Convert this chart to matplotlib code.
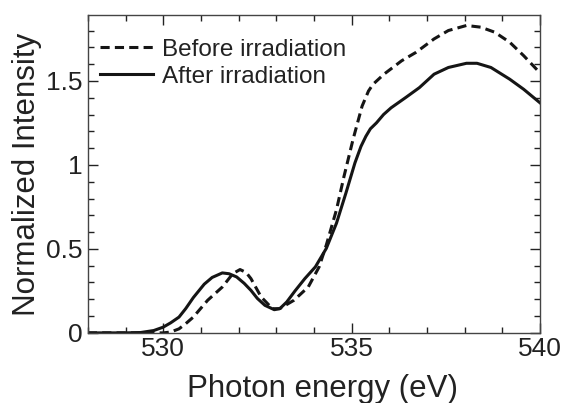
import matplotlib
matplotlib.use("Agg")
import matplotlib.pyplot as plt
from matplotlib.ticker import MultipleLocator

plt.rcParams['font.family'] = ['Liberation Sans', 'DejaVu Sans']

after_x = [528.0, 528.5, 529.0, 529.4, 529.75, 530.0, 530.2, 530.42, 530.6, 530.8, 531.09, 531.3,
           531.57, 531.75, 531.95, 532.15, 532.33, 532.5, 532.7, 532.95, 533.1, 533.28, 533.5,
           533.76, 534.04, 534.33, 534.6, 534.85, 535.09, 535.25, 535.38, 535.5, 535.66, 535.85,
           536.05, 536.43, 536.8, 537.19, 537.57, 538.05, 538.33, 538.7, 539.2, 539.57, 540.0]
after_y = [0.0, 0.0, 0.0, 0.002, 0.014, 0.034, 0.06, 0.094, 0.145, 0.21, 0.29, 0.33,
           0.357, 0.352, 0.333, 0.295, 0.253, 0.205, 0.164, 0.138, 0.145, 0.184, 0.25,
           0.323, 0.393, 0.503, 0.653, 0.832, 1.012, 1.11, 1.17, 1.215, 1.25, 1.30,
           1.34, 1.40, 1.46, 1.54, 1.58, 1.605, 1.605, 1.58, 1.51, 1.45, 1.37]

before_x = [528.0, 528.5, 529.0, 529.5, 530.0, 530.2, 530.42, 530.6, 530.8, 531.18, 531.57, 531.85,
            532.04, 532.2, 532.33, 532.6, 532.9, 533.09, 533.47, 533.85, 534.14, 534.33, 534.6,
            534.8, 535.04, 535.28, 535.45, 535.57, 535.86, 536.33, 536.71, 537.19, 537.57, 538.05,
            538.43, 538.8, 539.2, 539.57, 539.95]
before_y = [0.0, 0.0, 0.0, 0.0, 0.0, 0.005, 0.024, 0.055, 0.094, 0.194, 0.273, 0.353,
            0.377, 0.36, 0.323, 0.214, 0.144, 0.144, 0.194, 0.273, 0.393, 0.523, 0.733,
            0.932, 1.152, 1.35, 1.44, 1.48, 1.54, 1.62, 1.67, 1.75, 1.80, 1.83,
            1.82, 1.79, 1.73, 1.65, 1.56]

labels = ["Before irradiation", "After irradiation"]

fig = plt.figure(figsize=(5.63, 4.03), dpi=100)
ax = fig.add_axes([0.156, 0.174, 0.803, 0.789])

ax.plot(before_x, before_y, color='#151515', lw=2.2, ls=(0, (3.0, 1.7)), label=labels[0])
ax.plot(after_x, after_y, color='#151515', lw=2.2, ls='-', label=labels[1])

ax.set_xlim(528, 540)
ax.set_ylim(0, 1.893)
ax.set_xticks([530, 535, 540])
ax.set_yticks([0, 0.5, 1, 1.5])
ax.set_yticklabels(['0', '0.5', '1', '1.5'])
ax.xaxis.set_minor_locator(MultipleLocator(1))
ax.yaxis.set_minor_locator(MultipleLocator(0.1))
ax.tick_params(which='both', direction='in', top=True, right=True, labelsize=19, colors='#222222')
ax.tick_params(which='major', length=7, width=1)
ax.tick_params(which='minor', length=4, width=1)
ax.tick_params(axis='x', pad=3)
ax.tick_params(axis='y', pad=4)
for s in ax.spines.values():
    s.set_color('#444444')
    s.set_linewidth(1)

ax.set_xlabel('Photon energy (eV)', fontsize=22.5, color='#222222', labelpad=9, x=0.52)
ax.set_ylabel('Normalized Intensity', fontsize=22.5, color='#222222', labelpad=3)

leg = ax.legend(loc='upper left', frameon=False, fontsize=17.5, handlelength=2.2,
                handletextpad=0.35, borderaxespad=0.0, labelspacing=0.2,
                bbox_to_anchor=(0.005, 0.955))
for t in leg.get_texts():
    t.set_color('#222222')

fig.savefig('out.png', dpi=100)
